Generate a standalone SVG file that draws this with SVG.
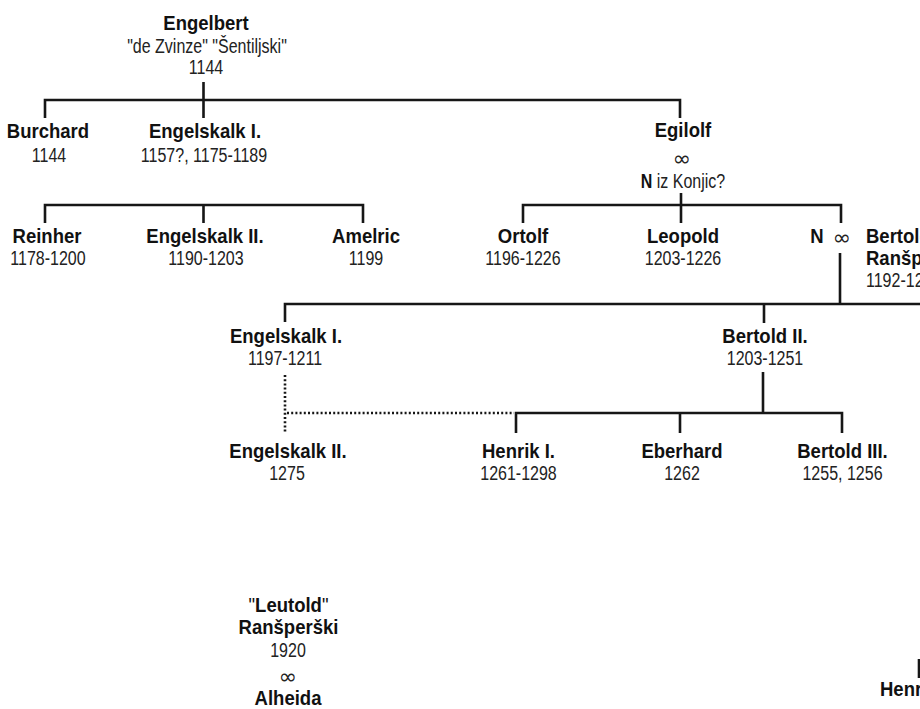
<svg xmlns="http://www.w3.org/2000/svg" width="920" height="709" viewBox="0 0 920 709">
<style>
.b{font-family:"Liberation Sans","Arial",sans-serif;font-weight:bold;font-size:19.5px;fill:#111;text-anchor:middle}
.r{font-family:"Liberation Sans","Arial",sans-serif;font-size:20px;fill:#222;text-anchor:middle}
.inf{font-family:"DejaVu Sans",sans-serif;font-size:22px;fill:#222;text-anchor:middle;dominant-baseline:central}
.st{text-anchor:start}
.bn{font-weight:bold;fill:#111}
.rn{font-weight:normal}
.ln{fill:none;stroke:#161616;stroke-width:2.6}
.dot{fill:none;stroke:#161616;stroke-width:2.6;stroke-dasharray:2 2.2}
</style>
<rect width="920" height="709" fill="#fff"/>
<g id="connectors">
<path class="ln" d="M45,118 V100 H680 V118 M203.5,82 V118"/>
<path class="ln" d="M45,223 V205 H363 V223 M203.5,205 V223"/>
<path class="ln" d="M681,193 V223 M523,223 V205 H841 V223"/>
<path class="ln" d="M840,253 V304"/>
<path class="ln" d="M285,322 V304 H920 M764,304 V323"/>
<path class="ln" d="M763,372 V413 M516,433 V413 H842 V433 M680,413 V433"/>
<path class="dot" d="M285,375 V432 M287,413 H514"/>
<path class="ln" d="M919,659 V678"/>
</g>
<g id="engelbert"><text class="b" transform="translate(206,30) scale(0.95,1)">Engelbert</text><text class="r" transform="translate(207,53) scale(0.8,1)">"de Zvinze" "Šentiljski"</text><text class="r" transform="translate(206,74) scale(0.8,1)">1144</text></g>
<g id="burchard"><text class="b" transform="translate(48,138) scale(0.95,1)">Burchard</text><text class="r" transform="translate(49,162) scale(0.8,1)">1144</text></g>
<g id="engelskalk1a"><text class="b" transform="translate(205,138) scale(0.95,1)">Engelskalk I.</text><text class="r" transform="translate(204,162) scale(0.8,1)">1157?, 1175-1189</text></g>
<g id="egilolf"><text class="b" transform="translate(683,137) scale(0.95,1)">Egilolf</text><text class="inf" x="682" y="158">∞</text><text class="r" transform="translate(683,188) scale(0.8,1)"><tspan class="bn">N</tspan> iz Konjic?</text></g>
<g id="reinher"><text class="b" transform="translate(47,243) scale(0.95,1)">Reinher</text><text class="r" transform="translate(48,265) scale(0.8,1)">1178-1200</text></g>
<g id="engelskalk2a"><text class="b" transform="translate(205,243) scale(0.95,1)">Engelskalk II.</text><text class="r" transform="translate(206,265) scale(0.8,1)">1190-1203</text></g>
<g id="amelric"><text class="b" transform="translate(366,243) scale(0.95,1)">Amelric</text><text class="r" transform="translate(366,265) scale(0.8,1)">1199</text></g>
<g id="ortolf"><text class="b" transform="translate(523,243) scale(0.95,1)">Ortolf</text><text class="r" transform="translate(523,265) scale(0.8,1)">1196-1226</text></g>
<g id="leopold"><text class="b" transform="translate(683,243) scale(0.95,1)">Leopold</text><text class="r" transform="translate(683,265) scale(0.8,1)">1203-1226</text></g>
<g id="n-bertold"><text class="b" transform="translate(817,243) scale(0.95,1)">N</text><text class="inf" x="842" y="237">∞</text><text class="b st" transform="translate(866,243) scale(0.95,1)">Bertold</text><text class="b st" transform="translate(866,265) scale(0.95,1)">Ranšperški</text><text class="r st" transform="translate(866,287) scale(0.8,1)">1192-12</text></g>
<g id="engelskalk1b"><text class="b" transform="translate(286,343) scale(0.95,1)">Engelskalk I.</text><text class="r" transform="translate(285,365) scale(0.8,1)">1197-1211</text></g>
<g id="bertold2"><text class="b" transform="translate(765,343) scale(0.95,1)">Bertold II.</text><text class="r" transform="translate(765,365) scale(0.8,1)">1203-1251</text></g>
<g id="engelskalk2b"><text class="b" transform="translate(288,458) scale(0.95,1)">Engelskalk II.</text><text class="r" transform="translate(287,480) scale(0.8,1)">1275</text></g>
<g id="henrik1"><text class="b" transform="translate(518.5,458) scale(0.95,1)">Henrik I.</text><text class="r" transform="translate(518.5,480) scale(0.8,1)">1261-1298</text></g>
<g id="eberhard"><text class="b" transform="translate(682,458) scale(0.95,1)">Eberhard</text><text class="r" transform="translate(682,480) scale(0.8,1)">1262</text></g>
<g id="bertold3"><text class="b" transform="translate(842.5,458) scale(0.95,1)">Bertold III.</text><text class="r" transform="translate(842.5,480) scale(0.8,1)">1255, 1256</text></g>
<g id="leutold"><text class="b" transform="translate(288.5,612) scale(0.95,1)"><tspan class="rn">"</tspan>Leutold<tspan class="rn">"</tspan></text><text class="b" transform="translate(288.5,634) scale(0.95,1)">Ranšperški</text><text class="r" transform="translate(288,657) scale(0.8,1)">1920</text><text class="inf" x="288" y="676">∞</text><text class="b" transform="translate(288,705) scale(0.95,1)">Alheida</text></g>
<g id="henr"><text class="b st" transform="translate(880,696) scale(0.95,1)">Henr</text></g>
</svg>
